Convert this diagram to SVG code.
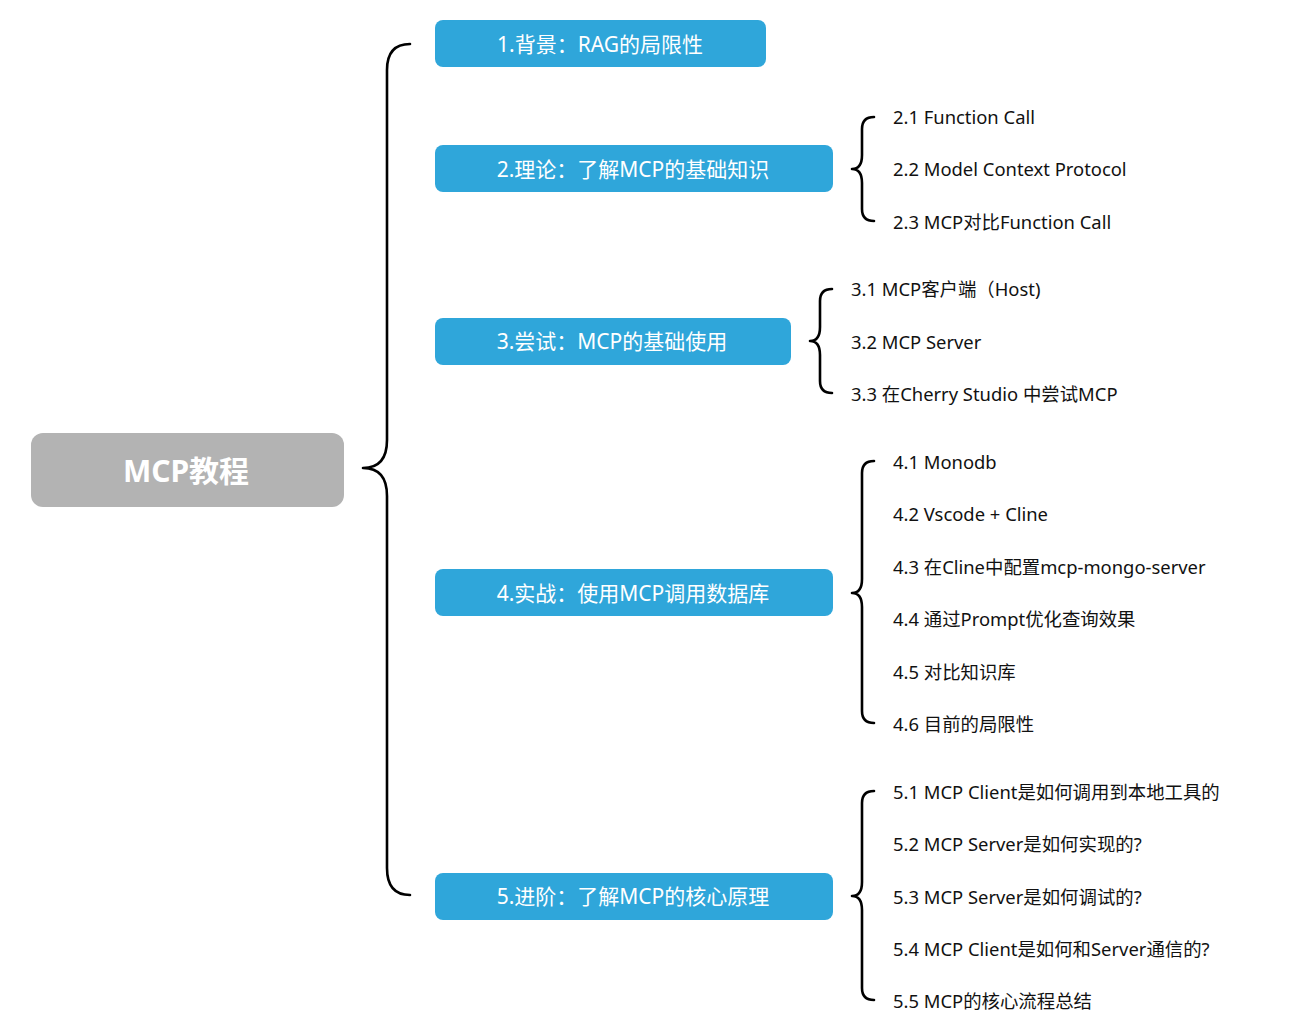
<svg xmlns="http://www.w3.org/2000/svg" width="1312" height="1021" viewBox="0 0 1312 1021">
<style>
.root{fill:#b3b3b3;}
.main{fill:#2fa6da;}
.rt{font-family:"Noto Sans","Noto Sans CJK SC",sans-serif;font-size:30px;font-weight:bold;fill:#ffffff;text-anchor:middle;dominant-baseline:central;}
.mt{font-family:"Noto Sans","Noto Sans CJK SC",sans-serif;font-size:21px;fill:#ffffff;text-anchor:middle;dominant-baseline:central;}
.lt{font-family:"Noto Sans","Noto Sans CJK SC",sans-serif;font-size:18.4px;fill:#111111;dominant-baseline:central;}
.br{fill:none;stroke:#000;stroke-width:2.6;stroke-linecap:round;stroke-linejoin:round;}
</style>
<rect width="1312" height="1021" fill="#ffffff"/>
<g id="connectors">
<path class="br" d="M410,44 Q387,44 387,70 L387,440 Q387,468 363,468 Q387,468 387,496 L387,868 Q387,895 410,895"/>
<path class="br" d="M874,117 Q862,117 862,129 L862,155 Q862,169 852,169 Q862,169 862,183 L862,209 Q862,221 874,221"/>
<path class="br" d="M832,289 Q820,289 820,301 L820,327 Q820,341 810,341 Q820,341 820,355 L820,381 Q820,393 832,393"/>
<path class="br" d="M874,461 Q862,461 862,473 L862,579 Q862,593 852,593 Q862,593 862,607 L862,711 Q862,723 874,723"/>
<path class="br" d="M874,791 Q862,791 862,803 L862,882 Q862,896 852,896 Q862,896 862,910 L862,988 Q862,1000 874,1000"/>
</g>
<g id="root"><rect class="root" x="31" y="433" width="313" height="74" rx="12"/><text class="rt" x="186" y="470">MCP教程</text></g>
<g id="n1"><rect class="main" x="435" y="20" width="331" height="47" rx="8"/><text class="mt" x="600" y="44">1.背景：RAG的局限性</text></g>
<g id="n2"><rect class="main" x="435" y="145" width="398" height="47" rx="8"/><text class="mt" x="633" y="169">2.理论：了解MCP的基础知识</text></g>
<g id="n3"><rect class="main" x="435" y="318" width="356" height="47" rx="8"/><text class="mt" x="612" y="341">3.尝试：MCP的基础使用</text></g>
<g id="n4"><rect class="main" x="435" y="569" width="398" height="47" rx="8"/><text class="mt" x="633" y="593">4.实战：使用MCP调用数据库</text></g>
<g id="n5"><rect class="main" x="435" y="873" width="398" height="47" rx="8"/><text class="mt" x="633" y="896">5.进阶：了解MCP的核心原理</text></g>
<g id="n2-1"><text class="lt" x="893" y="116">2.1 Function Call</text></g>
<g id="n2-2"><text class="lt" x="893" y="168">2.2 Model Context Protocol</text></g>
<g id="n2-3"><text class="lt" x="893" y="221">2.3 MCP对比Function Call</text></g>
<g id="n3-1"><text class="lt" x="851" y="288">3.1 MCP客户端（Host)</text></g>
<g id="n3-2"><text class="lt" x="851" y="341">3.2 MCP Server</text></g>
<g id="n3-3"><text class="lt" x="851" y="393">3.3 在Cherry Studio 中尝试MCP</text></g>
<g id="n4-1"><text class="lt" x="893" y="461">4.1 Monodb</text></g>
<g id="n4-2"><text class="lt" x="893" y="513">4.2 Vscode + Cline</text></g>
<g id="n4-3"><text class="lt" x="893" y="566">4.3 在Cline中配置mcp-mongo-server</text></g>
<g id="n4-4"><text class="lt" x="893" y="618">4.4 通过Prompt优化查询效果</text></g>
<g id="n4-5"><text class="lt" x="893" y="671">4.5 对比知识库</text></g>
<g id="n4-6"><text class="lt" x="893" y="723">4.6 目前的局限性</text></g>
<g id="n5-1"><text class="lt" x="893" y="791">5.1 MCP Client是如何调用到本地工具的</text></g>
<g id="n5-2"><text class="lt" x="893" y="843">5.2 MCP Server是如何实现的?</text></g>
<g id="n5-3"><text class="lt" x="893" y="896">5.3 MCP Server是如何调试的?</text></g>
<g id="n5-4"><text class="lt" x="893" y="948">5.4 MCP Client是如何和Server通信的?</text></g>
<g id="n5-5"><text class="lt" x="893" y="1000">5.5 MCP的核心流程总结</text></g>
</svg>
